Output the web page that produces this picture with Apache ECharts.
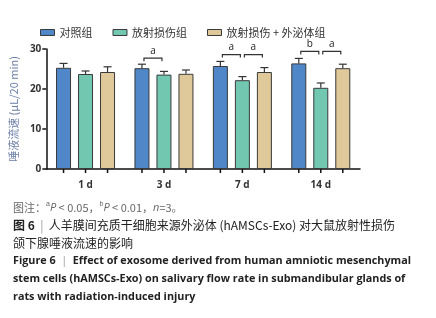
<!DOCTYPE html>
<html><head><meta charset="utf-8">
<script src="https://cdn.jsdelivr.net/npm/echarts@6/dist/echarts.min.js"></script>
<style>html,body{margin:0;padding:0;background:#fff}#c{width:436px;height:318px}</style>
</head><body><div id="c"></div>
<script>
var categories = ['1 d', '3 d', '7 d', '14 d'];
var seriesNames = ['对照组', '放射损伤组', '放射损伤 + 外泌体组'];
var controlMean = [25.3, 25.2, 25.75, 26.4];
var controlErr = [1.1, 1.0, 1.15, 1.25];
var injuryMean = [23.75, 23.6, 22.2, 20.3];
var injuryErr = [0.75, 0.8, 0.9, 1.2];
var exoMean = [24.25, 23.8, 24.25, 25.2];
var exoErr = [1.3, 0.95, 1.1, 1.0];
// significance: [category index, from series, to series, y level, label]
var sigMarks = [
  [1, 0, 1, 27.7, 'a'],
  [2, 0, 1, 28.6, 'a'],
  [2, 1, 2, 28.6, 'a'],
  [3, 0, 1, 29.4, 'b'],
  [3, 1, 2, 29.4, 'a']
];
var yTicks = [0, 10, 20, 30];

var colors = ['#4f87c9', '#72c7b1', '#dfc899'];
var means = [controlMean, injuryMean, exoMean];
var errs = [controlErr, injuryErr, exoErr];
var BW = 15, GAP = 7, STEP = BW + GAP;

var chart = echarts.init(document.getElementById('c'), null, {renderer: 'canvas'});
var series = [];
means.forEach(function (m, i) {
  series.push({
    name: seriesNames[i], type: 'bar', data: m, barWidth: BW, barGap: (GAP / BW * 100) + '%',
    itemStyle: {color: colors[i], borderColor: '#3a3a3a', borderWidth: 1},
    emphasis: {disabled: true}, z: 2
  });
});
var errData = [];
means.forEach(function (m, i) {
  m.forEach(function (v, c) { errData.push([c, v, errs[i][c], i]); });
});
series.push({
  type: 'custom', data: errData, z: 5, silent: true,
  renderItem: function (params, api) {
    var c = api.value(0), v = api.value(1), e = api.value(2), s = api.value(3);
    var base = api.coord([c, v]);
    var top = api.coord([c, v + e]);
    var zero = api.coord([c, 0]);
    var x = base[0] + (s - 1) * STEP;
    var st = {stroke: '#333', lineWidth: 1.2};
    return {type: 'group', children: [
      {type: 'line', shape: {x1: x, y1: base[1], x2: x, y2: top[1]}, style: st},
      {type: 'line', shape: {x1: x - 4, y1: top[1], x2: x + 4, y2: top[1]}, style: st},
      {type: 'line', shape: {x1: x, y1: zero[1], x2: x, y2: zero[1] + 4}, style: {stroke: '#111', lineWidth: 1.5}}
    ]};
  },
  clip: false
});
series.push({
  type: 'custom', data: sigMarks, z: 6, silent: true, clip: false,
  renderItem: function (params, api) {
    var c = api.value(0), a = api.value(1), b = api.value(2), y = api.value(3);
    var p = api.coord([c, y]);
    var x1 = p[0] + (a - 1) * STEP + 2, x2 = p[0] + (b - 1) * STEP - 2;
    var st = {stroke: '#333', lineWidth: 1.2, fill: null};
    return {type: 'group', children: [
      {type: 'polyline', shape: {points: [[x1, p[1] + 3], [x1, p[1]], [x2, p[1]], [x2, p[1] + 3]]}, style: st},
      {type: 'text', style: {text: sigMarks[params.dataIndex][4], x: (x1 + x2) / 2, y: p[1] - 2, align: 'center', verticalAlign: 'bottom', fontSize: 10, fill: '#222', fontFamily: 'Open Sans'}}
    ]};
  }
});

var ff = '"Noto Sans CJK SC", "Open Sans", sans-serif';
chart.setOption({
  animation: false,
  color: colors,
  legend: {
    data: seriesNames.map(function (n, i) { return {name: n, icon: 'rect', itemStyle: {color: colors[i], borderColor: '#3a3a3a', borderWidth: 1}}; }),
    left: 35, top: 22, itemWidth: 14, itemHeight: 6, itemGap: 20,
    textStyle: {fontSize: 11, color: '#333', fontFamily: ff}
  },
  grid: {left: 43, right: 76, top: 49, bottom: 149, containLabel: false},
  xAxis: {
    type: 'category', data: categories,
    axisLine: {lineStyle: {color: '#111', width: 1.5}},
    axisTick: {show: false},
    axisLabel: {fontSize: 10, fontWeight: 'bold', color: '#333', margin: 11, fontFamily: 'Open Sans'}
  },
  yAxis: {
    type: 'value', min: 0, max: 30, interval: 10,
    name: '唾液流速 (μL/20 min)', nameLocation: 'middle', nameGap: 20,
    nameTextStyle: {fontSize: 11, color: '#6b7ea6', fontFamily: ff},
    axisLine: {show: true, lineStyle: {color: '#111', width: 1.5}},
    axisTick: {show: true, length: 4, lineStyle: {color: '#111', width: 1.5}},
    splitLine: {show: false},
    axisLabel: {fontSize: 10, fontWeight: 'bold', color: '#333', margin: 5, fontFamily: 'Open Sans',
      formatter: function (v) { return yTicks.indexOf(v) >= 0 ? String(v) : ''; }}
  },
  graphic: [
    {type: 'text', left: 13, top: 201, style: {rich: {n: {fontSize: 11, fill: '#666', fontFamily: ff}, s: {fontSize: 7, fill: '#666', verticalAlign: 'top', padding: [0,0,6,0]}, i: {fontSize: 11, fill: '#666', fontStyle: 'italic', fontFamily: 'Open Sans'}},
      text: '{n|图注：}{s|a}{i|P}{n| < 0.05，}{s|b}{i|P}{n| < 0.01，}{i|n}{n|=3。}'}},
    {type: 'text', left: 13, top: 219, style: {rich: {b: {fontSize: 12, fontWeight: 'bold', fill: '#222', fontFamily: ff}, n: {fontSize: 12, fill: '#222', fontFamily: ff}, g: {fontSize: 12, fill: '#999', fontFamily: ff}},
      text: '{b|图 6}{g|  |  }{n|人羊膜间充质干细胞来源外泌体 (hAMSCs-Exo) 对大鼠放射性损伤}'}},
    {type: 'text', left: 13, top: 237, style: {text: '颌下腺唾液流速的影响', fontSize: 12, fill: '#222', fontFamily: ff}},
    {type: 'text', left: 13, top: 255, style: {rich: {b: {fontSize: 10.8, fontWeight: 'bold', fill: '#222', fontFamily: 'Open Sans'}, g: {fontSize: 10.8, fill: '#999', fontFamily: 'Open Sans'}},
      text: '{b|Figure 6}{g|  |  }{b|Effect of exosome derived from human amniotic mesenchymal}'}},
    {type: 'text', left: 13, top: 273, style: {text: 'stem cells (hAMSCs-Exo) on salivary flow rate in submandibular glands of', fontSize: 10.8, fontWeight: 'bold', fill: '#222', fontFamily: 'Open Sans'}},
    {type: 'text', left: 13, top: 291, style: {text: 'rats with radiation-induced injury', fontSize: 10.8, fontWeight: 'bold', fill: '#222', fontFamily: 'Open Sans'}}
  ],
  series: series
});
</script></body></html>
